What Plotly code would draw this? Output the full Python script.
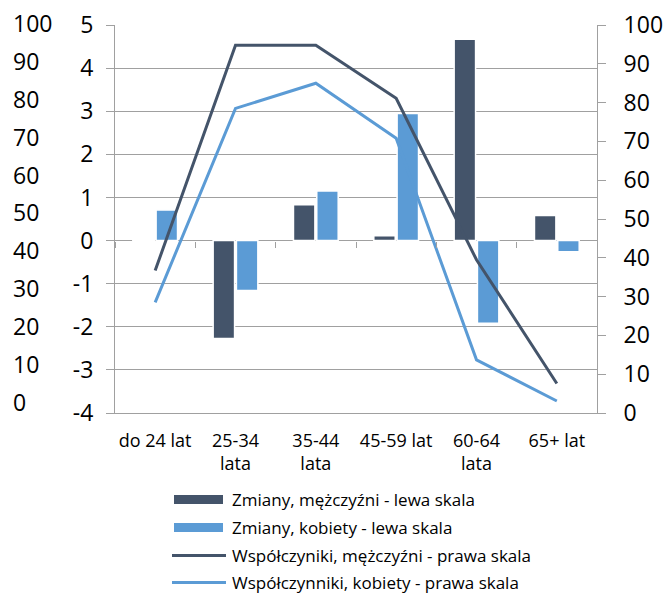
import plotly.graph_objects as go

# ---- data ----
categories = ["do 24 lat", "25-34<br>lata", "35-44<br>lata", "45-59 lat", "60-64<br>lata", "65+ lat"]
men_change = [-0.03, -2.27, 0.83, 0.11, 4.67, 0.58]
women_change = [0.71, -1.16, 1.15, 2.95, -1.92, -0.26]
men_rate = [36.7, 94.8, 94.8, 81.1, 39.5, 7.6]
women_rate = [28.5, 78.5, 85.0, 70.8, 13.7, 3.1]
left_ticks = list(range(-4, 6))
left_labels = [str(v) for v in left_ticks]
right_ticks = list(range(0, 101, 10))
outer_ticks = list(range(0, 101, 10))
names = [
    "Zmiany, mężczyźni - lewa skala",
    "Zmiany, kobiety - lewa skala",
    "Współczyniki, mężczyźni - prawa skala",
    "Współczynniki, kobiety - prawa skala",
]

DARK = "#44546A"
LIGHT = "#5B9BD5"
GRAY = "#A0A0A0"
FONT = "Open Sans"

W, H = 664, 594
L, R, T, B = 115, 67, 25, 181
PW, PH = W - L - R, H - T - B


def px_x(p):
    return (p - L) / PW


def px_y(p):
    return (H - B - p) / PH


fig = go.Figure()
fig.add_bar(x=categories, y=men_change, name=names[0],
            marker=dict(color=DARK, line=dict(color="white", width=1.5)))
fig.add_bar(x=categories, y=women_change, name=names[1],
            marker=dict(color=LIGHT, line=dict(color="white", width=1.5)))
fig.add_scatter(x=categories, y=men_rate, name=names[2], xaxis="x2", yaxis="y2",
                mode="lines", line=dict(color=DARK, width=3))
fig.add_scatter(x=categories, y=women_rate, name=names[3], xaxis="x2", yaxis="y2",
                mode="lines", line=dict(color=LIGHT, width=3))

annotations = []
# outer (left-most) scale labels
for v in outer_ticks:
    pix = 402 - v * 3.79
    annotations.append(dict(x=px_x(11), y=px_y(pix), xref="paper", yref="paper",
                            text=str(v), showarrow=False, xanchor="left", yanchor="middle",
                            font=dict(size=23, color="black", family=FONT)))

# custom legend
shapes = []
rows = [499.5, 527.5, 555.5, 582.5]
for i, (nm, cy) in enumerate(zip(names, rows)):
    col = DARK if i in (0, 2) else LIGHT
    if i < 2:
        shapes.append(dict(type="rect", xref="paper", yref="paper",
                           x0=px_x(174), x1=px_x(223), y0=px_y(cy - 4.5), y1=px_y(cy + 4.5),
                           fillcolor=col, line=dict(width=0)))
    else:
        shapes.append(dict(type="line", xref="paper", yref="paper",
                           x0=px_x(172), x1=px_x(226), y0=px_y(cy), y1=px_y(cy),
                           line=dict(color=col, width=3)))
    annotations.append(dict(x=px_x(230), y=px_y(cy), xref="paper", yref="paper",
                            text=nm, showarrow=False, xanchor="left", yanchor="middle",
                            font=dict(size=17, color="black", family=FONT)))

fig.update_layout(
    width=W, height=H,
    margin=dict(l=L, r=R, t=T, b=B, autoexpand=False),
    paper_bgcolor="white", plot_bgcolor="white",
    font=dict(family=FONT, color="black"),
    barmode="group", bargap=0.42, bargroupgap=0.08,
    showlegend=False,
    xaxis=dict(type="category", showline=True, linecolor=GRAY, linewidth=1, automargin=False,
               ticks="", showgrid=False, tickfont=dict(size=18, color="black"),
               ticklabelstandoff=11),
    xaxis2=dict(type="category", overlaying="x", matches="x", anchor="free", position=4 / 9,
                ticks="outside", tickson="boundaries", ticklen=6, tickcolor=GRAY, automargin=False,
                showticklabels=False, showgrid=False, showline=False, zeroline=False),
    yaxis=dict(range=[-4, 5], tickvals=left_ticks, ticktext=left_labels, automargin=False,
               showgrid=True, gridcolor=GRAY,
               zeroline=True, zerolinecolor=GRAY, zerolinewidth=1,
               showline=True, linecolor=GRAY, ticks="outside", ticklen=8, tickcolor=GRAY,
               tickfont=dict(size=23, color="black"), ticklabelstandoff=8),
    yaxis2=dict(range=[0, 100], tickvals=right_ticks, overlaying="y", side="right", automargin=False,
                showgrid=False, zeroline=False, showline=True, linecolor=GRAY,
                ticks="outside", ticklen=8, tickcolor=GRAY,
                tickfont=dict(size=23, color="black"), ticklabelstandoff=13),
    annotations=annotations,
    shapes=shapes,
)

fig.write_html("out.html", config={"displayModeBar": False},
               post_script="document.body.style.margin='0';document.body.style.padding='0';")
